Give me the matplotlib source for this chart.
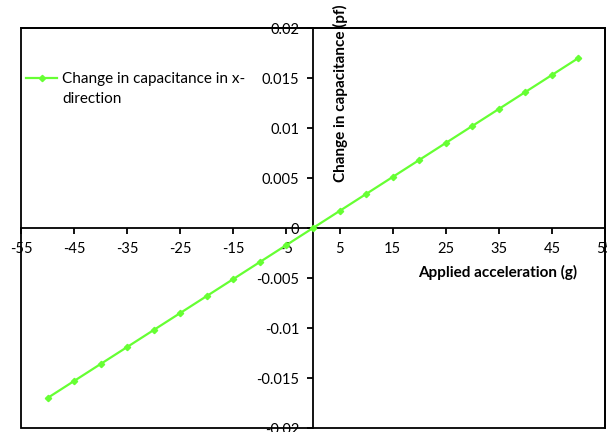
import matplotlib
matplotlib.use("Agg")
import matplotlib.pyplot as plt
from matplotlib.patches import Rectangle
from matplotlib.lines import Line2D

# Applied acceleration (g) and change in capacitance (pF)
accel = [-50, -45, -40, -35, -30, -25, -20, -15, -10, -5, 0,
         5, 10, 15, 20, 25, 30, 35, 40, 45, 50]
cap_change = [-0.0170, -0.0153, -0.0136, -0.0119, -0.0102, -0.0085, -0.0068,
              -0.0051, -0.0034, -0.0017, 0.0,
              0.0017, 0.0034, 0.0051, 0.0068, 0.0085, 0.0102, 0.0119,
              0.0136, 0.0153, 0.0170]

x_ticks = [-55, -45, -35, -25, -15, -5, 5, 15, 25, 35, 45, 55]
y_ticks = [-0.02, -0.015, -0.01, -0.005, 0, 0.005, 0.01, 0.015, 0.02]
y_tick_labels = ["-0.02", "-0.015", "-0.01", "-0.005", "0",
                 "0.005", "0.01", "0.015", "0.02"]

series_name = "Change in capacitance in x-\ndirection"
x_title = "Applied acceleration (g)"
y_title = "Change in capacitance (pf)"

plt.rcParams["font.family"] = ["Lato", "DejaVu Sans"]

W, H = 607, 432
fig = plt.figure(figsize=(W / 100, H / 100), dpi=100)
ax = fig.add_axes([21 / W, 4 / H, 584 / W, 400 / H])

green = "#66ff33"
ax.plot(accel, cap_change, color=green, lw=1.6, marker="D", ms=3.2,
        mec=green, mfc=green, zorder=3)

ax.set_xlim(-55, 55)
ax.set_ylim(-0.02, 0.02)

# axes crossing at the origin
ax.spines["left"].set_position(("data", 0))
ax.spines["bottom"].set_position(("data", 0))
for s in ax.spines.values():
    s.set_linewidth(1.3)
    s.set_color("black")
ax.add_patch(Rectangle((0, 0), 1, 1, transform=ax.transAxes, fill=False,
                       lw=1.3, ec="black", clip_on=False, zorder=4))

ax.set_xticks(x_ticks)
ax.set_xticklabels([str(v) for v in x_ticks])
ax.set_yticks(y_ticks)
ax.set_yticklabels(y_tick_labels)
ax.tick_params(axis="both", direction="out", length=4, width=1.3,
               labelsize=10.5, pad=6, colors="black")
ax.xaxis.set_ticks_position("bottom")
ax.yaxis.set_ticks_position("left")

fig.text(340 / W, 1 - 93 / H, y_title, rotation=90, ha="center",
         va="center", fontsize=11, fontweight="bold")
fig.text(498 / W, 1 - 272 / H, x_title, ha="center", va="center",
         fontsize=11, fontweight="bold")

# legend entry: line with marker next to a two-line label
fig.add_artist(Line2D([26 / W, 57 / W], [1 - 78 / H, 1 - 78 / H],
                      transform=fig.transFigure, color=green, lw=1.6))
fig.add_artist(Line2D([41.5 / W], [1 - 78 / H], transform=fig.transFigure,
                      color=green, marker="D", ms=3.2, mec=green, mfc=green))
fig.text(62 / W, 1 - 72 / H, series_name, ha="left", va="top",
         fontsize=11, linespacing=1.55)

fig.savefig("out.png", dpi=100)
